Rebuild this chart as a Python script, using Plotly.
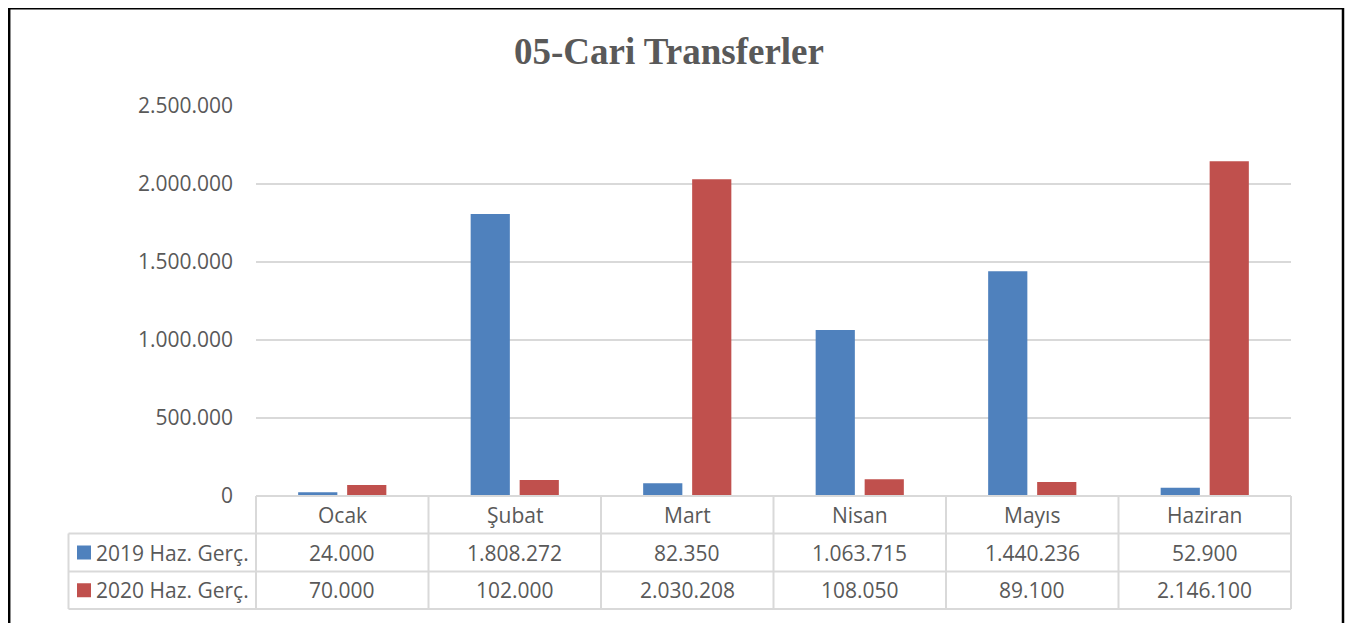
import plotly.graph_objects as go

categories = ["Ocak", "Şubat", "Mart", "Nisan", "Mayıs", "Haziran"]
series_names = ["2019 Haz. Gerç.", "2020 Haz. Gerç."]
values_2019 = [24000, 1808272, 82350, 1063715, 1440236, 52900]
values_2020 = [70000, 102000, 2030208, 108050, 89100, 2146100]
y_ticks = [0, 500000, 1000000, 1500000, 2000000, 2500000]
title_text = "05-Cari Transferler"

colors = ["#4F81BD", "#C0504D"]
series_values = [values_2019, values_2020]

OFF = 8  # page body margin
W, H = 1361 - OFF, 623 - OFF
L, R, T, B = 256 - OFF, 70, 106 - OFF, 127
PW = W - L - R
PH = H - T - B

def xp(px):
    return (px - OFF - L) / PW

def yp(py):
    return (H - B - (py - OFF)) / PH

def fmt(v):
    return f"{v:,}".replace(",", ".")

TXT = "#595959"
GRID = "#D9D9D9"
FONT = "Open Sans"
FS = 21

fig = go.Figure()
for name, vals, col in zip(series_names, series_values, colors):
    fig.add_trace(go.Bar(x=categories, y=vals, name=name, marker_color=col,
                         marker_line_width=0, showlegend=False))

shapes = []
annotations = []

n = len(categories)
row_y = [496, 533.5, 571.5, 609]
left_x = 68.5

# horizontal table lines
shapes.append(dict(type="line", xref="paper", yref="paper", x0=0, x1=1,
                   y0=yp(row_y[0]), y1=yp(row_y[0]), line=dict(color=GRID, width=2)))
for ry in row_y[1:]:
    shapes.append(dict(type="line", xref="paper", yref="paper", x0=xp(left_x), x1=1,
                       y0=yp(ry), y1=yp(ry), line=dict(color=GRID, width=2)))
# vertical table lines
for i in range(n + 1):
    shapes.append(dict(type="line", xref="paper", yref="paper", x0=i / n, x1=i / n,
                       y0=yp(row_y[0]), y1=yp(row_y[3]), line=dict(color=GRID, width=2)))
shapes.append(dict(type="line", xref="paper", yref="paper", x0=xp(left_x), x1=xp(left_x),
                   y0=yp(row_y[1]), y1=yp(row_y[3]), line=dict(color=GRID, width=2)))

# category labels
cy = (row_y[0] + row_y[1]) / 2
for i, c in enumerate(categories):
    annotations.append(dict(x=(i + 0.5) / n, y=yp(cy), xref="paper", yref="paper",
                            text=c, showarrow=False, xanchor="center", yanchor="middle",
                            font=dict(family=FONT, size=FS, color=TXT)))

# value rows
for r, (name, vals, col) in enumerate(zip(series_names, series_values, colors)):
    ry = (row_y[r + 1] + row_y[r + 2]) / 2
    shapes.append(dict(type="rect", xref="paper", yref="paper",
                       x0=xp(77), x1=xp(91), y0=yp(ry - 7), y1=yp(ry + 7),
                       fillcolor=col, line=dict(width=0)))
    annotations.append(dict(x=xp(94), y=yp(ry), xref="paper", yref="paper",
                            text=name, showarrow=False, xanchor="left", yanchor="middle",
                            font=dict(family=FONT, size=FS, color=TXT)))
    for i, v in enumerate(vals):
        annotations.append(dict(x=(i + 0.5) / n, y=yp(ry), xref="paper", yref="paper",
                                text=fmt(v), showarrow=False, xanchor="center", yanchor="middle",
                                font=dict(family=FONT, size=FS, color=TXT)))

# outer black frame
shapes.append(dict(type="rect", xref="paper", yref="paper",
                   x0=xp(9.2), x1=xp(1343), y0=yp(8.2), y1=yp(700),
                   line=dict(color="black", width=2.5), fillcolor="rgba(0,0,0,0)"))

# title
annotations.append(dict(x=xp(669), y=yp(51), xref="paper", yref="paper",
                        text=f"<b>{title_text}</b>", showarrow=False,
                        xanchor="center", yanchor="middle",
                        font=dict(family="Liberation Serif", size=37, color=TXT)))

fig.update_layout(
    template="none",
    width=W, height=H,
    margin=dict(l=L, r=R, t=T, b=B, pad=0),
    paper_bgcolor="white", plot_bgcolor="white",
    separators=",.",
    barmode="group", bargap=0.432, bargroupgap=0.2,
    showlegend=False,
    shapes=shapes, annotations=annotations,
    xaxis=dict(type="category", range=[-0.5, n - 0.5], showticklabels=False,
               showgrid=False, zeroline=False, showline=False, ticks="",
               automargin=False, fixedrange=True),
    yaxis=dict(range=[0, 2500000], tickvals=y_ticks, tickformat=",d",
               showgrid=True, gridcolor=GRID, gridwidth=1.5, zeroline=False,
               showline=False, ticks="", ticklabelstandoff=22,
               tickfont=dict(family=FONT, size=FS, color=TXT),
               automargin=False, fixedrange=True),
    font=dict(family=FONT, color=TXT),
)

fig.write_html("out.html")
